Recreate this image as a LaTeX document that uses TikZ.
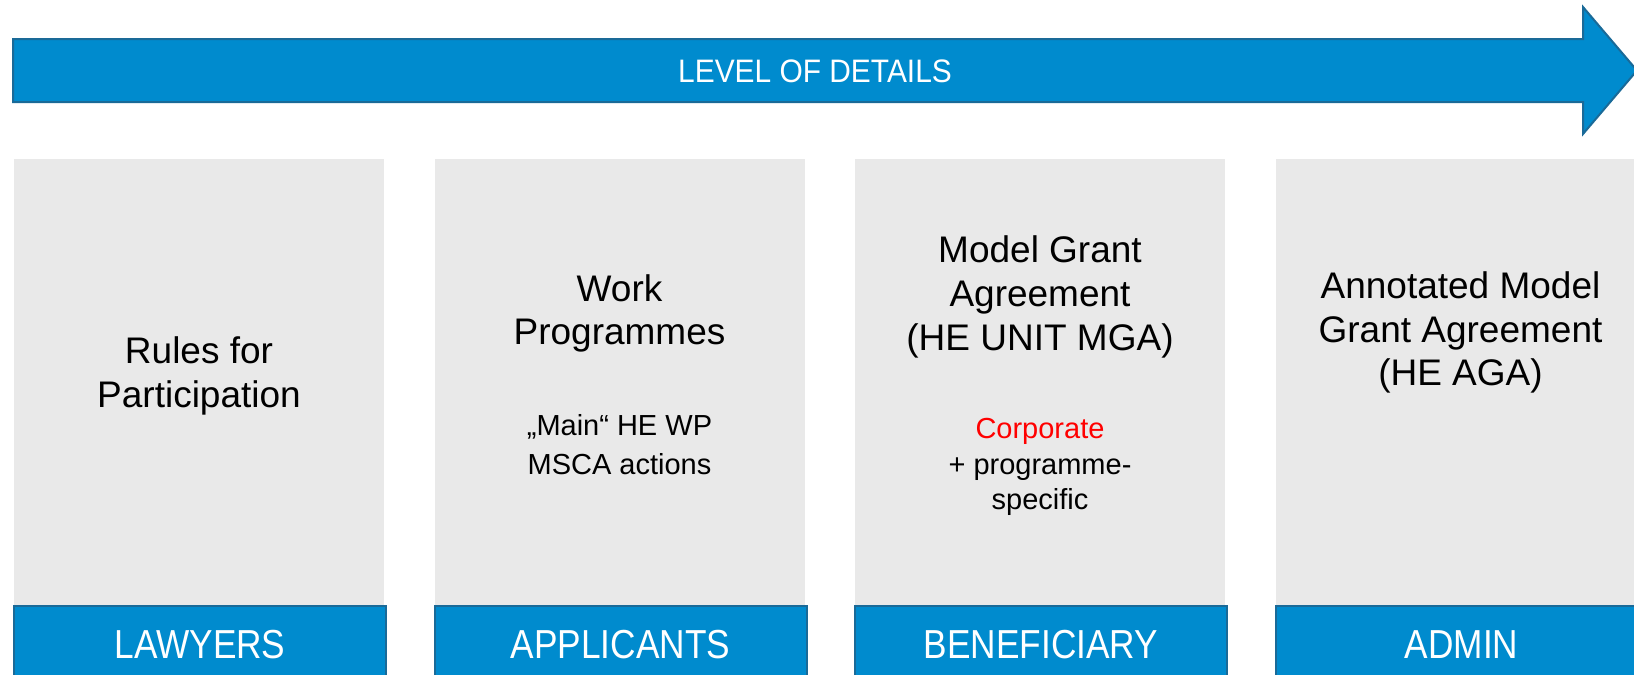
\documentclass[tikz,border=0pt]{standalone}
\usepackage{fontspec}
\setmainfont{Liberation Sans}
\newfontfamily\capfont[FakeStretch=0.87]{Liberation Sans}
\newfontfamily\headfont[FakeStretch=0.92]{Liberation Sans}
\definecolor{barblue}{HTML}{008BCE}
\definecolor{barline}{HTML}{1A6A98}
\definecolor{panelgray}{HTML}{E9E9E9}
\begin{document}
\begin{tikzpicture}[x=1pt,y=-1pt,
  panel/.style={fill=panelgray, draw=none, inner sep=0pt, anchor=north west,
    minimum width=370pt, minimum height=446pt},
  tag/.style={fill=barblue, draw=barline, line width=2pt, inner sep=0pt, anchor=north west,
    minimum width=372pt, minimum height=77pt, text=white,
    font=\capfont\fontsize{40.5}{48}\selectfont},
  bigtext/.style={align=center, inner sep=0pt, text=black,
    font=\fontsize{37}{43.8}\selectfont},
  smalltext/.style={align=center, inner sep=0pt, text=black}
]
\useasboundingbox (0,0) rectangle (1634,675);
\clip (0,0) rectangle (1634,675);

% arrow
\draw[fill=barblue, draw=barline, line width=2pt, line join=miter]
  (13,39) -- (1583,39) -- (1583,7) -- (1637,70.5) -- (1583,134) -- (1583,102) -- (13,102) -- cycle;
\node[inner sep=0pt, text=white, font=\headfont\fontsize{32.5}{39}\selectfont] (lod) at (815,71.6) {LEVEL OF DETAILS};

% panels
\node[panel] (p1) at (14,159) {};
\node[panel] (p2) at (434.5,159) {};
\node[panel] (p3) at (855,159) {};
\node[panel] (p4) at (1275.5,159) {};

% bottom tags
\node[tag] (t1) at (13,605) {LAWYERS};
\node[tag] (t2) at (433.5,605) {APPLICANTS};
\node[tag] (t3) at (854,605) {BENEFICIARY};
\node[tag] (t4) at (1274.5,605) {ADMIN};

% texts
\node[bigtext] (rules) at (199,376) {Rules for\\Participation};
\node[bigtext] (wp) at (619.5,313.5) {Work\\Programmes};
\node[smalltext, font=\fontsize{29}{39}\selectfont] (wpsub) at (619.5,445) {„Main“ HE WP\\MSCA actions};
\node[bigtext] (mga) at (1040,297) {Model Grant\\Agreement\\(HE UNIT MGA)};
\node[smalltext, font=\fontsize{29}{35.5}\selectfont] (mgasub) at (1040,467) {{\color{red}Corporate}\\+ programme-\\specific};
\node[bigtext] (aga) at (1460.5,332.5) {Annotated Model\\Grant Agreement\\(HE AGA)};
\end{tikzpicture}
\end{document}
